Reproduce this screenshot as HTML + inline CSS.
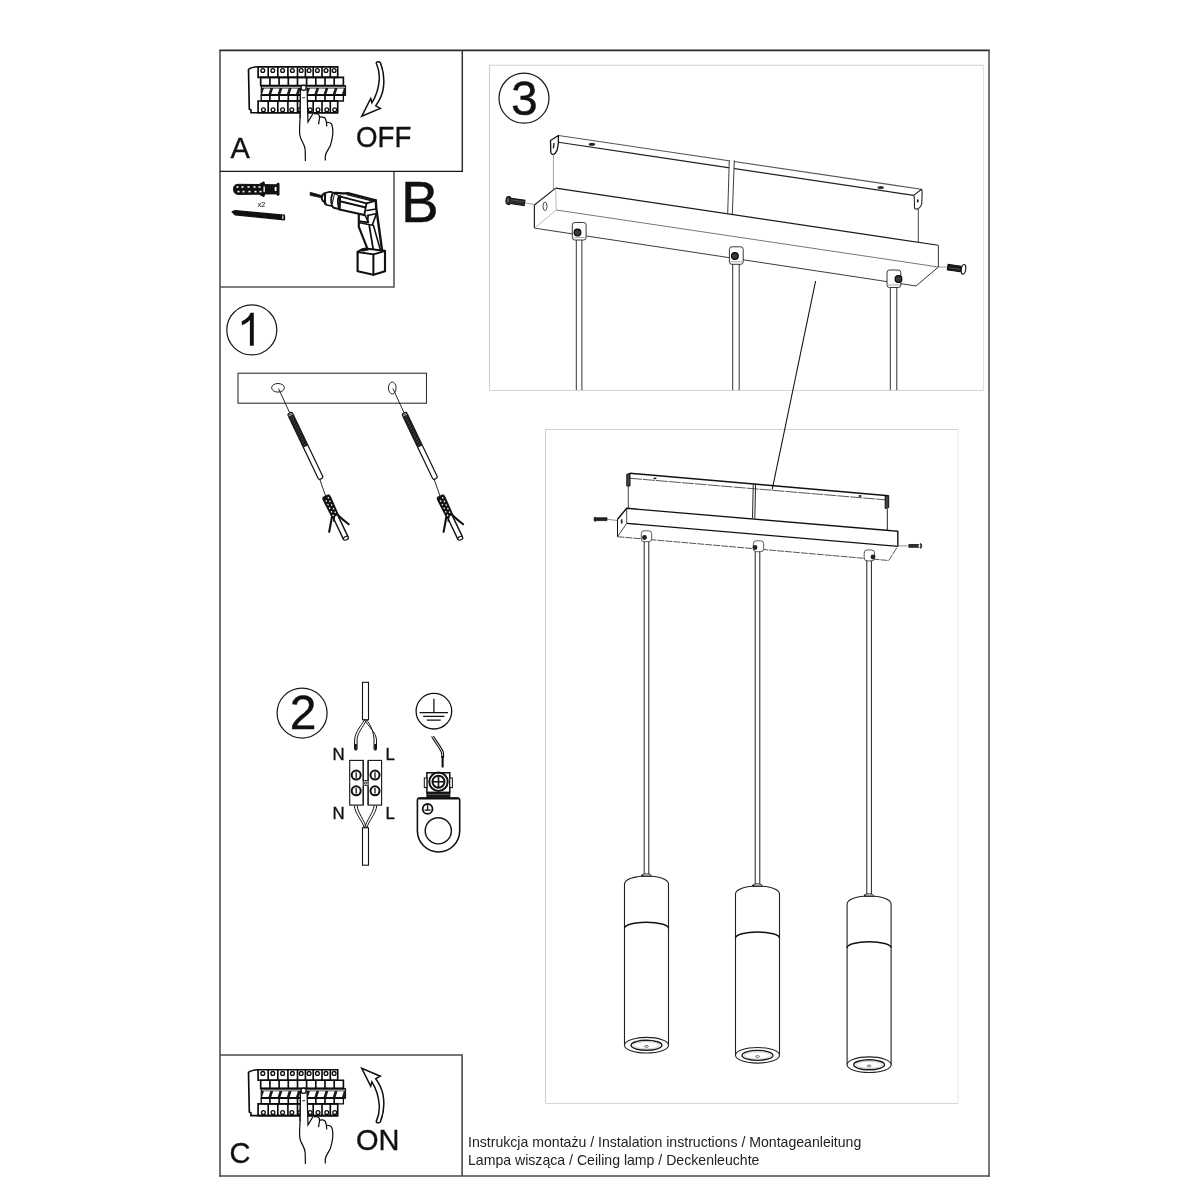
<!DOCTYPE html>
<html><head><meta charset="utf-8"><title>Instrukcja</title>
<style>html,body{margin:0;padding:0;background:#fff;width:1200px;height:1200px;overflow:hidden}svg{display:block;will-change:transform}</style>
</head><body>
<svg width="1200" height="1200" viewBox="0 0 1200 1200">
<path d="M219.2,50.4 H989.8" fill="none" stroke="#2a2a2a" stroke-width="1.6"/>
<path d="M989,50.4 V1176.8" fill="none" stroke="#555" stroke-width="1.6"/>
<path d="M989.8,1176 H219.2" fill="none" stroke="#4a4a4a" stroke-width="1.6"/>
<path d="M220,50.4 V1176.8" fill="none" stroke="#505050" stroke-width="1.6"/>
<path d="M394,171.4 V287 H220" fill="none" stroke="#555" stroke-width="1.6"/>
<path d="M462.3,50.4 V171.4" fill="none" stroke="#333" stroke-width="1.5"/>
<path d="M220,171.4 H463" fill="none" stroke="#1a1a1a" stroke-width="1.3"/>
<path d="M220,1055 H462.1 V1176" fill="none" stroke="#4a4a4a" stroke-width="1.6"/>
<path d="M489.5,390.5 V65.3 H983.5" fill="none" stroke="#cfcfcf" stroke-width="1.1"/>
<path d="M983.5,65.3 V390.5" fill="none" stroke="#e2e2e2" stroke-width="1.1"/>
<path d="M983.5,390.5 H489.5" fill="none" stroke="#d2d2d2" stroke-width="1.1"/>
<path d="M545.5,1103.5 V429.5 H958.1" fill="none" stroke="#d2d2d2" stroke-width="1.1"/>
<path d="M958.1,429.5 V1103.5" fill="none" stroke="#e8e8e8" stroke-width="1.1"/>
<path d="M958.1,1103.5 H545.5" fill="none" stroke="#d8d8d8" stroke-width="1.1"/>
<text x="230.5" y="158.3" font-family="Liberation Sans, sans-serif" font-size="29" fill="#111" stroke="#111" stroke-width="0.35">A</text>
<text x="356" y="146.7" font-family="Liberation Sans, sans-serif" font-size="29" fill="#111" stroke="#111" stroke-width="0.35" transform="translate(357,0) scale(0.954,1) translate(-357,0)">OFF</text>
<text x="401" y="221.9" font-family="Liberation Sans, sans-serif" font-size="56.5" fill="#111" stroke="#111" stroke-width="0.5">B</text>
<text x="229.5" y="1163.3" font-family="Liberation Sans, sans-serif" font-size="29" fill="#111" stroke="#111" stroke-width="0.35">C</text>
<text x="356" y="1150.3" font-family="Liberation Sans, sans-serif" font-size="29" fill="#111" stroke="#111" stroke-width="0.35">ON</text>
<text x="468" y="1146.6" font-family="Liberation Sans, sans-serif" font-size="14.1" fill="#222">Instrukcja montażu / Instalation instructions / Montageanleitung</text>
<text x="468" y="1165.2" font-family="Liberation Sans, sans-serif" font-size="14.1" fill="#222">Lampa wisząca / Ceiling lamp / Deckenleuchte</text>
<circle cx="251.8" cy="329.9" r="25" fill="none" stroke="#1a1a1a" stroke-width="1.25"/>
<circle cx="302.1" cy="713" r="25" fill="none" stroke="#1a1a1a" stroke-width="1.25"/>
<circle cx="524" cy="98.2" r="25" fill="none" stroke="#1a1a1a" stroke-width="1.25"/>
<path d="M249.9,345.8 L253.8,345.8 L253.8,312.8 L250.6,312.8 C249,316.5 246,319.6 241.8,321.3 L241.8,325.2 C245,324.2 248,322.3 249.9,320 Z" fill="#111"/>
<text x="303" y="728.7" text-anchor="middle" font-family="Liberation Sans, sans-serif" font-size="48" fill="#111" stroke="#111" stroke-width="0.4">2</text>
<text x="524.4" y="114.5" text-anchor="middle" font-family="Liberation Sans, sans-serif" font-size="48" fill="#111" stroke="#111" stroke-width="0.4">3</text>
<g transform="translate(0,0)" fill="none" stroke="#0a0a0a" stroke-width="1.65">
<path d="M258.1,66.8 C253,67 250,68 248.5,69.5 L249.3,109 L251,110 L251,112.7 L337.7,112.7"/>
<path d="M258.1,66.8 H337.7 V77.3 H258.1 Z"/>
<path d="M268.2,66.8 V77.3"/>
<path d="M277.8,66.8 V77.3"/>
<path d="M287.9,66.8 V77.3"/>
<path d="M297.5,66.8 V77.3"/>
<path d="M305.4,66.8 V77.3"/>
<path d="M313.2,66.8 V77.3"/>
<path d="M322.0,66.8 V77.3"/>
<path d="M330.3,66.8 V77.3"/>
<circle cx="262.8" cy="70.5" r="1.9" stroke-width="1.3"/>
<circle cx="272.8" cy="70.5" r="1.9" stroke-width="1.3"/>
<circle cx="282.6" cy="70.5" r="1.9" stroke-width="1.3"/>
<circle cx="292.4" cy="70.5" r="1.9" stroke-width="1.3"/>
<circle cx="301.2" cy="70.5" r="1.9" stroke-width="1.3"/>
<circle cx="309.1" cy="70.5" r="1.9" stroke-width="1.3"/>
<circle cx="317.4" cy="70.5" r="1.9" stroke-width="1.3"/>
<circle cx="326.0" cy="70.5" r="1.9" stroke-width="1.3"/>
<circle cx="334.1" cy="70.5" r="1.9" stroke-width="1.3"/>
<circle cx="263.4" cy="109.7" r="1.9" stroke-width="1.3"/>
<circle cx="273.0" cy="109.7" r="1.9" stroke-width="1.3"/>
<circle cx="282.6" cy="109.7" r="1.9" stroke-width="1.3"/>
<circle cx="291.8" cy="109.7" r="1.9" stroke-width="1.3"/>
<circle cx="299.7" cy="109.7" r="1.9" stroke-width="1.3"/>
<circle cx="310.2" cy="109.7" r="1.9" stroke-width="1.3"/>
<circle cx="318.0" cy="109.7" r="1.9" stroke-width="1.3"/>
<circle cx="326.8" cy="109.7" r="1.9" stroke-width="1.3"/>
<circle cx="334.7" cy="109.7" r="1.9" stroke-width="1.3"/>
<path d="M260.7,77.3 H343.4 V85.5 H260.7 Z"/>
<path d="M269.9,77.3 V85.5"/>
<path d="M279.1,77.3 V85.5"/>
<path d="M288.3,77.3 V85.5"/>
<path d="M297.5,77.3 V85.5"/>
<path d="M306.6,77.3 V85.5"/>
<path d="M315.8,77.3 V85.5"/>
<path d="M325.0,77.3 V85.5"/>
<path d="M334.2,77.3 V85.5"/>
<path d="M261.2,85.5 H345.6 V95.5 H261.2 Z" fill="#1a1a1a" stroke-width="1.0"/>
<path d="M262,87.3 H345" stroke="#fff" stroke-width="0.8"/>
<path d="M262.10,94.1 L263.90,88.4 L270.29,88.4 L268.49,94.1 Z" fill="#fff" stroke="none"/>
<path d="M271.29,94.1 L273.09,88.4 L279.48,88.4 L277.68,94.1 Z" fill="#fff" stroke="none"/>
<path d="M280.48,94.1 L282.28,88.4 L288.67,88.4 L286.87,94.1 Z" fill="#fff" stroke="none"/>
<path d="M289.67,94.1 L291.47,88.4 L297.86,88.4 L296.06,94.1 Z" fill="#fff" stroke="none"/>
<path d="M298.86,94.1 L300.66,88.4 L307.04,88.4 L305.24,94.1 Z" fill="#fff" stroke="none"/>
<path d="M308.04,94.1 L309.84,88.4 L316.23,88.4 L314.43,94.1 Z" fill="#fff" stroke="none"/>
<path d="M317.23,94.1 L319.03,88.4 L325.42,88.4 L323.62,94.1 Z" fill="#fff" stroke="none"/>
<path d="M326.42,94.1 L328.22,88.4 L334.61,88.4 L332.81,94.1 Z" fill="#fff" stroke="none"/>
<path d="M335.61,94.1 L337.41,88.4 L343.80,88.4 L342.00,94.1 Z" fill="#fff" stroke="none"/>
<path d="M261.2,95.2 H343.4 V101 H261.2 Z" stroke-width="1.3"/>
<path d="M269.9,95.2 V101"/>
<path d="M279.1,95.2 V101"/>
<path d="M288.3,95.2 V101"/>
<path d="M297.5,95.2 V101"/>
<path d="M306.6,95.2 V101"/>
<path d="M315.8,95.2 V101"/>
<path d="M325.0,95.2 V101"/>
<path d="M334.2,95.2 V101"/>
<path d="M258.1,101 H337.7 V112.7 H258.1 Z"/>
<path d="M268.2,101 V112.7"/>
<path d="M277.8,101 V112.7"/>
<path d="M287.9,101 V112.7"/>
<path d="M297.5,101 V112.7"/>
<path d="M305.4,101 V112.7"/>
<path d="M313.2,101 V112.7"/>
<path d="M322.0,101 V112.7"/>
<path d="M330.3,101 V112.7"/>
<path d="M300.5,88 L300.1,117.5 C299.8,125 299,131 300,136 C301,141 305,144 305.2,150 L305.4,161" fill="none" stroke-width="1.2"/>
<path d="M300.6,88 L300.4,117 L307.8,121.8 L307,88 Z" fill="#fff" stroke="none"/>
<path d="M300.5,88 L300.1,118 M307,88 L308,122 L312.9,113.8" stroke-width="1.2"/>
<circle cx="303.6" cy="87.8" r="2.6" fill="#fff" stroke-width="1.2"/>
<path d="M302,98 L305,97.5" stroke-width="0.8"/>
<path d="M314,114 C316,113.5 318.5,114 319.3,115.5 C320,118 319,121 318.5,124.3" stroke-width="1.2"/>
<path d="M319.3,117.5 C321,116.5 324.5,117 325.3,118.5 C326.3,120.5 326.6,123 326.8,126.5" stroke-width="1.2"/>
<path d="M326.6,122.5 C328.5,122 331.3,123 332,125 C333.5,130 333,137 330.5,145.3 C329,149 325.8,152 325.3,156 L325.3,160.6" stroke-width="1.2"/>
</g>
<g transform="translate(0,1002.9)" fill="none" stroke="#0a0a0a" stroke-width="1.65">
<path d="M258.1,66.8 C253,67 250,68 248.5,69.5 L249.3,109 L251,110 L251,112.7 L337.7,112.7"/>
<path d="M258.1,66.8 H337.7 V77.3 H258.1 Z"/>
<path d="M268.2,66.8 V77.3"/>
<path d="M277.8,66.8 V77.3"/>
<path d="M287.9,66.8 V77.3"/>
<path d="M297.5,66.8 V77.3"/>
<path d="M305.4,66.8 V77.3"/>
<path d="M313.2,66.8 V77.3"/>
<path d="M322.0,66.8 V77.3"/>
<path d="M330.3,66.8 V77.3"/>
<circle cx="262.8" cy="70.5" r="1.9" stroke-width="1.3"/>
<circle cx="272.8" cy="70.5" r="1.9" stroke-width="1.3"/>
<circle cx="282.6" cy="70.5" r="1.9" stroke-width="1.3"/>
<circle cx="292.4" cy="70.5" r="1.9" stroke-width="1.3"/>
<circle cx="301.2" cy="70.5" r="1.9" stroke-width="1.3"/>
<circle cx="309.1" cy="70.5" r="1.9" stroke-width="1.3"/>
<circle cx="317.4" cy="70.5" r="1.9" stroke-width="1.3"/>
<circle cx="326.0" cy="70.5" r="1.9" stroke-width="1.3"/>
<circle cx="334.1" cy="70.5" r="1.9" stroke-width="1.3"/>
<circle cx="263.4" cy="109.7" r="1.9" stroke-width="1.3"/>
<circle cx="273.0" cy="109.7" r="1.9" stroke-width="1.3"/>
<circle cx="282.6" cy="109.7" r="1.9" stroke-width="1.3"/>
<circle cx="291.8" cy="109.7" r="1.9" stroke-width="1.3"/>
<circle cx="299.7" cy="109.7" r="1.9" stroke-width="1.3"/>
<circle cx="310.2" cy="109.7" r="1.9" stroke-width="1.3"/>
<circle cx="318.0" cy="109.7" r="1.9" stroke-width="1.3"/>
<circle cx="326.8" cy="109.7" r="1.9" stroke-width="1.3"/>
<circle cx="334.7" cy="109.7" r="1.9" stroke-width="1.3"/>
<path d="M260.7,77.3 H343.4 V85.5 H260.7 Z"/>
<path d="M269.9,77.3 V85.5"/>
<path d="M279.1,77.3 V85.5"/>
<path d="M288.3,77.3 V85.5"/>
<path d="M297.5,77.3 V85.5"/>
<path d="M306.6,77.3 V85.5"/>
<path d="M315.8,77.3 V85.5"/>
<path d="M325.0,77.3 V85.5"/>
<path d="M334.2,77.3 V85.5"/>
<path d="M261.2,85.5 H345.6 V95.5 H261.2 Z" fill="#1a1a1a" stroke-width="1.0"/>
<path d="M262,87.3 H345" stroke="#fff" stroke-width="0.8"/>
<path d="M262.10,94.1 L263.90,88.4 L270.29,88.4 L268.49,94.1 Z" fill="#fff" stroke="none"/>
<path d="M271.29,94.1 L273.09,88.4 L279.48,88.4 L277.68,94.1 Z" fill="#fff" stroke="none"/>
<path d="M280.48,94.1 L282.28,88.4 L288.67,88.4 L286.87,94.1 Z" fill="#fff" stroke="none"/>
<path d="M289.67,94.1 L291.47,88.4 L297.86,88.4 L296.06,94.1 Z" fill="#fff" stroke="none"/>
<path d="M298.86,94.1 L300.66,88.4 L307.04,88.4 L305.24,94.1 Z" fill="#fff" stroke="none"/>
<path d="M308.04,94.1 L309.84,88.4 L316.23,88.4 L314.43,94.1 Z" fill="#fff" stroke="none"/>
<path d="M317.23,94.1 L319.03,88.4 L325.42,88.4 L323.62,94.1 Z" fill="#fff" stroke="none"/>
<path d="M326.42,94.1 L328.22,88.4 L334.61,88.4 L332.81,94.1 Z" fill="#fff" stroke="none"/>
<path d="M335.61,94.1 L337.41,88.4 L343.80,88.4 L342.00,94.1 Z" fill="#fff" stroke="none"/>
<path d="M261.2,95.2 H343.4 V101 H261.2 Z" stroke-width="1.3"/>
<path d="M269.9,95.2 V101"/>
<path d="M279.1,95.2 V101"/>
<path d="M288.3,95.2 V101"/>
<path d="M297.5,95.2 V101"/>
<path d="M306.6,95.2 V101"/>
<path d="M315.8,95.2 V101"/>
<path d="M325.0,95.2 V101"/>
<path d="M334.2,95.2 V101"/>
<path d="M258.1,101 H337.7 V112.7 H258.1 Z"/>
<path d="M268.2,101 V112.7"/>
<path d="M277.8,101 V112.7"/>
<path d="M287.9,101 V112.7"/>
<path d="M297.5,101 V112.7"/>
<path d="M305.4,101 V112.7"/>
<path d="M313.2,101 V112.7"/>
<path d="M322.0,101 V112.7"/>
<path d="M330.3,101 V112.7"/>
<path d="M300.5,88 L300.1,117.5 C299.8,125 299,131 300,136 C301,141 305,144 305.2,150 L305.4,161" fill="none" stroke-width="1.2"/>
<path d="M300.6,88 L300.4,117 L307.8,121.8 L307,88 Z" fill="#fff" stroke="none"/>
<path d="M300.5,88 L300.1,118 M307,88 L308,122 L312.9,113.8" stroke-width="1.2"/>
<circle cx="303.6" cy="87.8" r="2.6" fill="#fff" stroke-width="1.2"/>
<path d="M302,98 L305,97.5" stroke-width="0.8"/>
<path d="M314,114 C316,113.5 318.5,114 319.3,115.5 C320,118 319,121 318.5,124.3" stroke-width="1.2"/>
<path d="M319.3,117.5 C321,116.5 324.5,117 325.3,118.5 C326.3,120.5 326.6,123 326.8,126.5" stroke-width="1.2"/>
<path d="M326.6,122.5 C328.5,122 331.3,123 332,125 C333.5,130 333,137 330.5,145.3 C329,149 325.8,152 325.3,156 L325.3,160.6" stroke-width="1.2"/>
</g>
<path d="M376.3,63.2 C376,61.5 379,61.5 380.3,62.6 C384,72 384.5,82 383,90 C381.5,97 378.5,102 375.7,105.8 L380.3,108.4 L361.7,116.3 L370.7,98.5 L371.9,102.8 C375.5,97 378.5,90 379.2,80.1 C379.8,73 378,67 376.3,63.2 Z" fill="#fff" stroke="#111" stroke-width="1.5" stroke-linejoin="miter"/>
<g transform="translate(0,1184.6) scale(1,-1)"><path d="M376.3,63.2 C376,61.5 379,61.5 380.3,62.6 C384,72 384.5,82 383,90 C381.5,97 378.5,102 375.7,105.8 L380.3,108.4 L361.7,116.3 L370.7,98.5 L371.9,102.8 C375.5,97 378.5,90 379.2,80.1 C379.8,73 378,67 376.3,63.2 Z" fill="#fff" stroke="#111" stroke-width="1.5"/></g>
<g fill="#111" stroke="#111" stroke-width="1">
<path d="M233.5,189 C233.5,186 235,184.5 238,184.3 L259,184.5 L264,181.8 L264.5,184.6 L276.5,184.8 L277.3,183.3 L279,183.3 L279,195.2 L277.3,195.2 L276.5,193.9 L264.5,194 L264,196.8 L259,194.2 L238,194.4 C235,194.2 233.5,192.5 233.5,189 Z"/>
</g>
<g fill="#fff" stroke="none">
<rect x="236.5" y="186.2" width="2" height="1.6"/><rect x="237.5" y="190.8" width="2" height="1.6"/>
<rect x="241.5" y="186.2" width="2" height="1.6"/><rect x="242.5" y="190.8" width="2" height="1.6"/>
<rect x="247.5" y="186.2" width="2" height="1.6"/><rect x="248.5" y="190.8" width="2" height="1.6"/>
<rect x="253.5" y="186.2" width="2" height="1.6"/><rect x="254.5" y="190.8" width="2" height="1.6"/>
<rect x="258.5" y="186.2" width="2" height="1.6"/><rect x="259.5" y="190.8" width="2" height="1.6"/>
<rect x="263.5" y="186.5" width="1.3" height="5.5"/><rect x="274.7" y="187" width="1.8" height="4"/>
</g>
<text x="257.8" y="206.5" font-family="Liberation Sans, sans-serif" font-size="7" fill="#333" stroke="#333" stroke-width="0.15">x2</text>
<path d="M232.1,211.8 L235,210.6 L284.5,215.2 L284.5,219.8 L235,214.8 Z" fill="#111" stroke="#111" stroke-width="1.2" stroke-linejoin="round"/>
<path d="M282.8,215.6 L282.8,219" stroke="#fff" stroke-width="1.1"/>
<path d="M310.2,192.3 L321.8,195.6 L321.6,197.8 L310.2,195.3 Z" fill="#111" stroke="#111" stroke-width="0.8" stroke-linejoin="round"/>
<path d="M324.6,193.4 C322.5,194 321.6,196 321.7,198 C321.9,200 322.8,201.6 325.2,202.5" fill="none" stroke="#111" stroke-width="1.92" stroke-linejoin="round" stroke-linecap="round"/>
<path d="M324.6,193.4 C326.5,192.6 328.5,191.8 330,191.9 C332,192 333.5,192.8 335,193.4 L332.3,205.9 C330,205.8 327.5,205.3 325.8,204.5 C324.8,204 324.8,203 325.2,202.5 Z" fill="#fff" stroke="#111" stroke-width="1.92" stroke-linejoin="round" stroke-linecap="round"/>
<path d="M325.5,195 C324.5,198 324.8,201.5 325.9,204.3" fill="none" stroke="#111" stroke-width="1.56" stroke-linejoin="round" stroke-linecap="round"/>
<path d="M332.3,194 C330.8,198 330.8,202 332.3,205.9" fill="none" stroke="#111" stroke-width="1.92" stroke-linejoin="round" stroke-linecap="round"/>
<path d="M335,193.4 L340.2,196 L339.8,209 L334.2,208 C333,207.3 332.5,206.7 332.3,205.9" fill="#fff" stroke="#111" stroke-width="1.92" stroke-linejoin="round" stroke-linecap="round"/>
<path d="M338.8,196 C337.5,199.5 337.5,204.5 339.6,208.8" fill="none" stroke="#111" stroke-width="1.8" stroke-linejoin="round" stroke-linecap="round"/>
<path d="M335,193 L347.8,193.2 L375.8,200.4 L376.2,207.7 L375.8,213.7 L364.3,215 L339.6,209.5 L340.2,196 Z" fill="#fff" stroke="#111" stroke-width="0.12" stroke-linejoin="round" stroke-linecap="round"/>
<path d="M335,193 C338,192.5 342,194 347.8,193.2 L375.8,200.4" fill="none" stroke="#111" stroke-width="2.4" stroke-linejoin="round" stroke-linecap="round"/>
<path d="M340.5,196.7 L366.5,203.4 L375.8,200.6" fill="none" stroke="#111" stroke-width="1.8" stroke-linejoin="round" stroke-linecap="round"/>
<path d="M347,194.6 L372,200.8" fill="none" stroke="#111" stroke-width="1.2" stroke-linejoin="round" stroke-linecap="round"/>
<path d="M340.2,196 L339.6,209.5" fill="none" stroke="#111" stroke-width="2.04" stroke-linejoin="round" stroke-linecap="round"/>
<path d="M340,201.3 L364.8,207.2" fill="none" stroke="#111" stroke-width="1.92" stroke-linejoin="round" stroke-linecap="round"/>
<path d="M339.6,209.5 L364.3,215" fill="none" stroke="#111" stroke-width="2.28" stroke-linejoin="round" stroke-linecap="round"/>
<path d="M366.5,203.4 L364.3,215" fill="none" stroke="#111" stroke-width="1.8" stroke-linejoin="round" stroke-linecap="round"/>
<path d="M367,210.5 L375.8,209" fill="none" stroke="#111" stroke-width="1.68" stroke-linejoin="round" stroke-linecap="round"/>
<path d="M367.5,215.5 L375.8,213.7" fill="none" stroke="#111" stroke-width="1.68" stroke-linejoin="round" stroke-linecap="round"/>
<path d="M375.8,200.4 L376.2,207.7 L382.1,250.3" fill="none" stroke="#111" stroke-width="2.4" stroke-linejoin="round" stroke-linecap="round"/>
<path d="M358.8,215 L358.8,226.9 L366.9,247.4" fill="none" stroke="#111" stroke-width="2.16" stroke-linejoin="round" stroke-linecap="round"/>
<path d="M358.8,221.1 L367.5,222.3 L368.1,215.8" fill="none" stroke="#111" stroke-width="1.68" stroke-linejoin="round" stroke-linecap="round"/>
<path d="M359.9,222.8 L372.2,225.2 L376.5,213.5" fill="none" stroke="#111" stroke-width="1.68" stroke-linejoin="round" stroke-linecap="round"/>
<path d="M365.2,215.6 L368.6,222.5" fill="none" stroke="#111" stroke-width="1.44" stroke-linejoin="round" stroke-linecap="round"/>
<path d="M369.3,225.8 L373.4,250.3" fill="none" stroke="#111" stroke-width="1.8" stroke-linejoin="round" stroke-linecap="round"/>
<path d="M373.4,225.2 L380.4,250.3" fill="none" stroke="#111" stroke-width="1.56" stroke-linejoin="round" stroke-linecap="round"/>
<path d="M357.6,252 L362,249.3 L366,248.5 L385,250.9 L385,271.3 L373.4,274.8 L357.6,271.3 Z" fill="#fff" stroke="#111" stroke-width="2.16" stroke-linejoin="round" stroke-linecap="round"/>
<path d="M357.6,252 L373.4,254.4 L385,250.9" fill="none" stroke="#111" stroke-width="1.92" stroke-linejoin="round" stroke-linecap="round"/>
<path d="M373.4,254.4 L373.4,274.8" fill="none" stroke="#111" stroke-width="2.04" stroke-linejoin="round" stroke-linecap="round"/>
<path d="M362.5,250.5 L368,249.6" fill="none" stroke="#111" stroke-width="1.92" stroke-linejoin="round" stroke-linecap="round"/>
<rect x="238" y="373.2" width="188.5" height="30" fill="none" stroke="#333" stroke-width="1.1"/>
<ellipse cx="278" cy="387.8" rx="6.4" ry="4.3" fill="#fff" stroke="#222" stroke-width="1"/>
<ellipse cx="392.3" cy="388" rx="3.8" ry="6" fill="#fff" stroke="#222" stroke-width="1"/>
<g transform="translate(0,0)" stroke="#111" fill="none">
<path d="M278.5,388.5 L290,413.5" stroke-width="0.9"/>
<g transform="translate(290.2,414) rotate(64.5)">
<rect x="-1.2" y="-2.5" width="73" height="5" rx="1.8" fill="#fff" stroke-width="1.2"/>
<rect x="0" y="-2.4" width="36" height="4.8" fill="#1a1a1a" stroke="none"/>
<path d="M3,-1.2 L4.6,1.2" stroke="#666" stroke-width="0.6"/>
<path d="M6,-1.2 L7.6,1.2" stroke="#666" stroke-width="0.6"/>
<path d="M9,-1.2 L10.6,1.2" stroke="#666" stroke-width="0.6"/>
<path d="M12,-1.2 L13.6,1.2" stroke="#666" stroke-width="0.6"/>
<path d="M15,-1.2 L16.6,1.2" stroke="#666" stroke-width="0.6"/>
<path d="M18,-1.2 L19.6,1.2" stroke="#666" stroke-width="0.6"/>
<path d="M21,-1.2 L22.6,1.2" stroke="#666" stroke-width="0.6"/>
<path d="M24,-1.2 L25.6,1.2" stroke="#666" stroke-width="0.6"/>
<path d="M27,-1.2 L28.6,1.2" stroke="#666" stroke-width="0.6"/>
<path d="M30,-1.2 L31.6,1.2" stroke="#666" stroke-width="0.6"/>
<path d="M33,-1.2 L34.6,1.2" stroke="#666" stroke-width="0.6"/>
<path d="M1.2,-2.4 V2.4" stroke="#fff" stroke-width="0.6"/>
</g>
<path d="M319.8,479.5 L325.8,496.5" stroke-width="0.9"/>
<g transform="translate(325.8,496.2) rotate(64.5)">
<rect x="19" y="-2.6" width="28" height="5.2" rx="1.5" fill="#fff" stroke-width="1.4"/>
<ellipse cx="46.6" cy="0" rx="1.7" ry="2.6" fill="#fff" stroke-width="1.2"/>
<path d="M0,-2.6 C0,-3.6 1.5,-3.9 3,-3.9 L21,-3.3 L22.5,3.3 L3,3.9 C1.5,3.9 0,3.6 0,2.6 Z" fill="#111" stroke-width="1.2"/>
<ellipse cx="2.5" cy="-1.6" rx="0.9" ry="0.7" fill="#fff" stroke="none"/>
<ellipse cx="4.5" cy="1.6" rx="0.9" ry="0.7" fill="#fff" stroke="none"/>
<ellipse cx="6.5" cy="-1.6" rx="0.9" ry="0.7" fill="#fff" stroke="none"/>
<ellipse cx="8.5" cy="1.6" rx="0.9" ry="0.7" fill="#fff" stroke="none"/>
<ellipse cx="10.5" cy="-1.6" rx="0.9" ry="0.7" fill="#fff" stroke="none"/>
<ellipse cx="12.5" cy="1.6" rx="0.9" ry="0.7" fill="#fff" stroke="none"/>
<ellipse cx="14.5" cy="-1.6" rx="0.9" ry="0.7" fill="#fff" stroke="none"/>
<ellipse cx="16.5" cy="1.6" rx="0.9" ry="0.7" fill="#fff" stroke="none"/>
<ellipse cx="18.5" cy="-1.6" rx="0.9" ry="0.7" fill="#fff" stroke="none"/>
<ellipse cx="20.5" cy="1.6" rx="0.9" ry="0.7" fill="#fff" stroke="none"/>
<path d="M21.6,3.6 C25,6 30,9.5 33.6,12.3" stroke-width="2.1" stroke-linecap="round"/>
<path d="M21.9,-2.8 C26,-4 31,-6.5 35.2,-8.6" stroke-width="2.0" stroke-linecap="round"/>
<path d="M22,1 L26,3.5" stroke-width="1.5" stroke-linecap="round"/>
</g>
</g>
<g transform="translate(114.4,0)" stroke="#111" fill="none">
<path d="M278.5,388.5 L290,413.5" stroke-width="0.9"/>
<g transform="translate(290.2,414) rotate(64.5)">
<rect x="-1.2" y="-2.5" width="73" height="5" rx="1.8" fill="#fff" stroke-width="1.2"/>
<rect x="0" y="-2.4" width="36" height="4.8" fill="#1a1a1a" stroke="none"/>
<path d="M3,-1.2 L4.6,1.2" stroke="#666" stroke-width="0.6"/>
<path d="M6,-1.2 L7.6,1.2" stroke="#666" stroke-width="0.6"/>
<path d="M9,-1.2 L10.6,1.2" stroke="#666" stroke-width="0.6"/>
<path d="M12,-1.2 L13.6,1.2" stroke="#666" stroke-width="0.6"/>
<path d="M15,-1.2 L16.6,1.2" stroke="#666" stroke-width="0.6"/>
<path d="M18,-1.2 L19.6,1.2" stroke="#666" stroke-width="0.6"/>
<path d="M21,-1.2 L22.6,1.2" stroke="#666" stroke-width="0.6"/>
<path d="M24,-1.2 L25.6,1.2" stroke="#666" stroke-width="0.6"/>
<path d="M27,-1.2 L28.6,1.2" stroke="#666" stroke-width="0.6"/>
<path d="M30,-1.2 L31.6,1.2" stroke="#666" stroke-width="0.6"/>
<path d="M33,-1.2 L34.6,1.2" stroke="#666" stroke-width="0.6"/>
<path d="M1.2,-2.4 V2.4" stroke="#fff" stroke-width="0.6"/>
</g>
<path d="M319.8,479.5 L325.8,496.5" stroke-width="0.9"/>
<g transform="translate(325.8,496.2) rotate(64.5)">
<rect x="19" y="-2.6" width="28" height="5.2" rx="1.5" fill="#fff" stroke-width="1.4"/>
<ellipse cx="46.6" cy="0" rx="1.7" ry="2.6" fill="#fff" stroke-width="1.2"/>
<path d="M0,-2.6 C0,-3.6 1.5,-3.9 3,-3.9 L21,-3.3 L22.5,3.3 L3,3.9 C1.5,3.9 0,3.6 0,2.6 Z" fill="#111" stroke-width="1.2"/>
<ellipse cx="2.5" cy="-1.6" rx="0.9" ry="0.7" fill="#fff" stroke="none"/>
<ellipse cx="4.5" cy="1.6" rx="0.9" ry="0.7" fill="#fff" stroke="none"/>
<ellipse cx="6.5" cy="-1.6" rx="0.9" ry="0.7" fill="#fff" stroke="none"/>
<ellipse cx="8.5" cy="1.6" rx="0.9" ry="0.7" fill="#fff" stroke="none"/>
<ellipse cx="10.5" cy="-1.6" rx="0.9" ry="0.7" fill="#fff" stroke="none"/>
<ellipse cx="12.5" cy="1.6" rx="0.9" ry="0.7" fill="#fff" stroke="none"/>
<ellipse cx="14.5" cy="-1.6" rx="0.9" ry="0.7" fill="#fff" stroke="none"/>
<ellipse cx="16.5" cy="1.6" rx="0.9" ry="0.7" fill="#fff" stroke="none"/>
<ellipse cx="18.5" cy="-1.6" rx="0.9" ry="0.7" fill="#fff" stroke="none"/>
<ellipse cx="20.5" cy="1.6" rx="0.9" ry="0.7" fill="#fff" stroke="none"/>
<path d="M21.6,3.6 C25,6 30,9.5 33.6,12.3" stroke-width="2.1" stroke-linecap="round"/>
<path d="M21.9,-2.8 C26,-4 31,-6.5 35.2,-8.6" stroke-width="2.0" stroke-linecap="round"/>
<path d="M22,1 L26,3.5" stroke-width="1.5" stroke-linecap="round"/>
</g>
</g>
<g stroke="#111" fill="none" stroke-width="1.1">
<rect x="362.5" y="682.3" width="6" height="37.4" fill="#fff"/>
<rect x="362.5" y="827.8" width="6" height="37.4" fill="#fff"/>
<path d="M364.3,720 C361,726 355,732 354.6,740 L354.6,749.5 M366.6,720 C363,727 357.2,733 357.1,740 L357.1,749.5" stroke-width="1"/>
<path d="M364.6,720 C368,726 376,732 376.5,740 L376.5,749.5 M366.8,720 C371,726 373.8,732 374,740 L374,749.5" stroke-width="1"/>
<path d="M355.8,744 V750.5 M375.3,744 V750.5" stroke-width="2.0"/>
<path d="M354.3,805.5 C355,814 362,820 364.3,828 M357,805.5 C358,813 364,820 366.6,828" stroke-width="1"/>
<path d="M376.8,805.5 C376,814 369,820 366.8,828 M374.2,805.5 C373,813 367,820 364.3,828" stroke-width="1"/>
<rect x="349.7" y="760.4" width="13.5" height="44.7" fill="#fff"/>
<rect x="368.1" y="760.4" width="13.5" height="44.7" fill="#fff"/>
<path d="M363.2,760.4 V780.7 H368.1 V760.4" stroke-width="1.0"/>
<path d="M363.2,805.1 V786.8 C363.2,785.8 364,785.5 365.6,785.5 C367.2,785.5 368.1,785.8 368.1,786.8 V805.1" stroke-width="1.0"/>
<circle cx="365.6" cy="783.2" r="1.1" stroke-width="0.9"/>
<circle cx="356.2" cy="775.1" r="4.5" fill="#fff" stroke-width="2.0"/>
<path d="M356.2,772.3000000000001 V777.9" stroke-width="1.3"/>
<circle cx="356.2" cy="790.8" r="4.5" fill="#fff" stroke-width="2.0"/>
<path d="M356.2,788.0 V793.5999999999999" stroke-width="1.3"/>
<circle cx="375" cy="775.1" r="4.5" fill="#fff" stroke-width="2.0"/>
<path d="M375,772.3000000000001 V777.9" stroke-width="1.3"/>
<circle cx="375" cy="790.8" r="4.5" fill="#fff" stroke-width="2.0"/>
<path d="M375,788.0 V793.5999999999999" stroke-width="1.3"/>
</g>
<text x="332.5" y="759.6" font-family="Liberation Sans, sans-serif" font-size="16.8" fill="#111" stroke="#111" stroke-width="0.35">N</text>
<text x="385.5" y="759.6" font-family="Liberation Sans, sans-serif" font-size="16.8" fill="#111" stroke="#111" stroke-width="0.35">L</text>
<text x="332.5" y="818.9" font-family="Liberation Sans, sans-serif" font-size="16.8" fill="#111" stroke="#111" stroke-width="0.35">N</text>
<text x="385.5" y="818.9" font-family="Liberation Sans, sans-serif" font-size="16.8" fill="#111" stroke="#111" stroke-width="0.35">L</text>
<g stroke="#111" fill="none">
<circle cx="433.9" cy="711.2" r="17.8" stroke-width="1.3"/>
<path d="M433.9,698.8 V712.7 M419.6,712.7 H448 M423.2,716.3 H444.4 M426.9,720 H440.7" stroke-width="1.25"/>
<path d="M431.6,736.5 C434,741 439.5,748 441.3,752 C442,754 441.8,756 441.8,758 M433.4,736 C436,740.5 441.3,747 443.1,751.5 C443.9,753.5 443.6,756 443.6,758" stroke-width="1.1"/>
<path d="M442.6,756 V767.5" stroke-width="2.1"/>
<path d="M419.6,798 H457.5 Q459.7,798 459.7,800.2 V830.8 A21.15,21.15 0 0 1 417.4,830.8 V800.2 Q417.4,798 419.6,798 Z" fill="#fff" stroke-width="1.6"/>
<path d="M418.5,798.6 H458.6" stroke-width="2.0"/>
<circle cx="438.3" cy="830.8" r="13.1" stroke-width="1.4"/>
<circle cx="427.6" cy="808.9" r="4.9" stroke-width="1.8"/>
<path d="M427.6,805.3 V810.2 M424.6,810.2 H430.6" stroke-width="1.3"/>
<rect x="426.9" y="772.8" width="22.9" height="19.7" fill="#fff" stroke-width="1.5"/>
<rect x="426.9" y="792.3" width="22.9" height="6" fill="#1a1a1a" stroke-width="1"/>
<path d="M427.5,794.5 H449" stroke="#777" stroke-width="0.6"/>
<rect x="424.3" y="778" width="2.6" height="9.6" fill="#fff" stroke-width="1.0"/>
<rect x="449.8" y="778" width="2.6" height="9.6" fill="#fff" stroke-width="1.0"/>
<circle cx="438.5" cy="781.8" r="9.2" stroke-width="2.0"/>
<circle cx="438.5" cy="781.8" r="6.0" stroke-width="2.0"/>
<path d="M438.5,776 V787.6 M432.7,781.8 H444.3" stroke-width="1.6"/>
</g>
<path d="M558.4,135.5 L921.5,189.3" fill="none" stroke="#555" stroke-width="1.1" stroke-linejoin="round" />
<path d="M558.4,142.2 L913.7,195.4" fill="none" stroke="#222" stroke-width="1.1" stroke-linejoin="round" />
<path d="M558.4,135.5 L550.5,140.5 L550.8,152.5 C551,154.5 553.5,155 555,153.5 C556.5,152 557.6,150 557.8,147 L558.4,142.2 Z" fill="#fff" stroke="#111" stroke-width="1.3" stroke-linejoin="round" />
<path d="M554,143 L553.4,148.3" fill="none" stroke="#111" stroke-width="1.3" stroke-linejoin="round" />
<path d="M913.7,195.4 L921.5,189.3 C922.3,190.5 922.1,192 922.1,194 L921.8,203 C921.5,205.5 919.5,208 917.8,208.6 C916.5,209.6 914.6,209 914.5,207.7 L914.3,197.2 Z" fill="#fff" stroke="#222" stroke-width="1.1" stroke-linejoin="round" />
<path d="M918,199.5 L917.5,202.4" fill="none" stroke="#111" stroke-width="1.6" stroke-linejoin="round" />
<path d="M553.4,154.5 L553.4,189" fill="none" stroke="#888" stroke-width="0.8" stroke-linejoin="round" />
<path d="M918.3,208.6 L918.3,242" fill="none" stroke="#444" stroke-width="1.0" stroke-linejoin="round" />
<ellipse cx="591.9" cy="144.3" rx="3.2" ry="1.5" fill="#222"/>
<ellipse cx="880.7" cy="187.6" rx="3.2" ry="1.5" fill="#333"/>
<path d="M729.3,160.3 L734.3,160.3 L732.3,214.3 L727.7,213.7 Z" fill="#fff"/>
<path d="M729.3,160.3 L727.7,213.7 M734.3,160.3 L732.3,214.3" fill="none" stroke="#333" stroke-width="0.95" stroke-linejoin="round" />
<path d="M555.6,188.1 L938.4,245.3 L938.4,267 L916,286 L534.4,228.1 L534.4,205 Z" fill="#fff" stroke="#fff" stroke-width="0.1" stroke-linejoin="round" />
<path d="M534.4,205 L555.6,188.1" fill="none" stroke="#222" stroke-width="1.2" stroke-linejoin="round" />
<path d="M555.6,188.1 L938.4,245.3" fill="none" stroke="#1a1a1a" stroke-width="1.15" stroke-linejoin="round" />
<path d="M938.4,245.3 L938.4,267 L916,286" fill="none" stroke="#333" stroke-width="1.0" stroke-linejoin="round" />
<path d="M916,286 L534.4,228.1" fill="none" stroke="#333" stroke-width="0.95" stroke-linejoin="round" />
<path d="M534.4,228.1 L534.4,205" fill="none" stroke="#222" stroke-width="1.2" stroke-linejoin="round" />
<path d="M556.3,210 L938.4,267" fill="none" stroke="#555" stroke-width="0.8" stroke-linejoin="round" />
<path d="M555.6,188.5 L556.3,210 L534.4,228.1" fill="none" stroke="#aaa" stroke-width="0.8" stroke-linejoin="round" />
<ellipse cx="545" cy="206.3" rx="2" ry="4.3" fill="none" stroke="#333" stroke-width="0.9"/>
<path d="M524.5,202.8 L534.3,204.5" fill="none" stroke="#555" stroke-width="0.6" stroke-linejoin="round" />
<g transform="translate(508.3,200.5) rotate(8)"><path d="M-2.3,-1 C-2.3,-4.5 2,-4.8 2.3,-2.6 L16.5,-2.6 L16.5,2.8 L2.3,2.8 C2,4.8 -2.3,4.5 -2.3,1 Z" fill="#2a2a2a" stroke="#111" stroke-width="1"/><path d="M-0.8,-2 C0,-1 0,1 -0.8,2" stroke="#ccc" stroke-width="0.7" fill="none"/><path d="M3,-1 H15" stroke="#666" stroke-width="0.6"/></g>
<path d="M938.6,267 L946.7,267.2" fill="none" stroke="#555" stroke-width="0.6" stroke-linejoin="round" />
<g transform="translate(964,269.4) rotate(188)"><path d="M2.3,-2.8 L16.5,-2.8 L16.5,2.8 L2.3,2.8 Z" fill="#1a1a1a" stroke="#111" stroke-width="1"/><path d="M4,-0.5 H15" stroke="#777" stroke-width="0.6"/><ellipse cx="0.5" cy="0" rx="2.2" ry="4.8" fill="#fff" stroke="#111" stroke-width="1.1"/></g>
<path d="M576.3,238.5 V390 M581.9,238.5 V390" fill="none" stroke="#333" stroke-width="1.0" stroke-linejoin="round" />
<rect x="572.3" y="222.5" width="13.8" height="17.5" rx="2.5" fill="#fff" stroke="#222" stroke-width="0.9"/>
<path d="M573.3,237.5 H585.0999999999999" stroke="#888" stroke-width="0.7"/>
<circle cx="577.5" cy="232.5" r="3.4" fill="#3a3a3a" stroke="#000" stroke-width="1.1"/>
<path d="M732.7,262.8 V390 M739.2,262.8 V390" fill="none" stroke="#333" stroke-width="1.0" stroke-linejoin="round" />
<rect x="729.4" y="246.8" width="13.8" height="17.5" rx="2.5" fill="#fff" stroke="#222" stroke-width="0.9"/>
<path d="M730.4,261.8 H742.1999999999999" stroke="#888" stroke-width="0.7"/>
<circle cx="734.9" cy="256" r="3.4" fill="#3a3a3a" stroke="#000" stroke-width="1.1"/>
<path d="M890.3,286 V390 M896.8,286 V390" fill="none" stroke="#333" stroke-width="1.0" stroke-linejoin="round" />
<rect x="887" y="270" width="13.8" height="17.5" rx="2.5" fill="#fff" stroke="#222" stroke-width="0.9"/>
<path d="M888,285 H899.8" stroke="#888" stroke-width="0.7"/>
<circle cx="898.5" cy="279" r="3.4" fill="#3a3a3a" stroke="#000" stroke-width="1.1"/>
<path d="M815.6,281 L772.2,489.5" fill="none" stroke="#111" stroke-width="1.1" stroke-linejoin="round" />
<path d="M630,473.3 L888.7,495.8" fill="none" stroke="#111" stroke-width="1.4" stroke-linejoin="round" />
<path d="M630,478.3 L885.2,499.8" fill="none" stroke="#444" stroke-width="0.9" stroke-linejoin="round" stroke-dasharray="12,1"/>
<path d="M626.8,474.3 L630,473.3 L630,486 L626.8,486 Z" fill="#444" stroke="#111" stroke-width="1.0" stroke-linejoin="round" />
<path d="M885.2,496.1 L888.7,495.8 L888.7,507.5 L885.2,508.6 Z" fill="#444" stroke="#111" stroke-width="1.0" stroke-linejoin="round" />
<path d="M628.3,486 L628.3,508.3" fill="none" stroke="#333" stroke-width="0.9" stroke-linejoin="round" />
<path d="M887.3,508.6 L887.3,530.8" fill="none" stroke="#222" stroke-width="1.0" stroke-linejoin="round" />
<ellipse cx="655" cy="478.3" rx="1.6" ry="0.9" fill="#222"/>
<ellipse cx="860" cy="496" rx="1.6" ry="0.9" fill="#222"/>
<path d="M753.3,483.2 L752.5,518 M755.6,483.4 L754.8,518.5" fill="none" stroke="#222" stroke-width="1.0" stroke-linejoin="round" />
<path d="M626.7,508.3 L897.8,531.3 L897.8,546.3 L888.7,560.5 L617.5,536.7 L617.5,519.2 Z" fill="#fff" stroke="#fff" stroke-width="0.1" stroke-linejoin="round" />
<path d="M617.5,519.2 L626.7,508.3 L897.8,531.3 L897.8,546.3" fill="none" stroke="#111" stroke-width="1.4" stroke-linejoin="round" />
<path d="M617.5,519.2 L617.5,536.7" fill="none" stroke="#111" stroke-width="1.0" stroke-linejoin="round" />
<path d="M626.7,523.3 L897.8,546.3" fill="none" stroke="#111" stroke-width="1.3" stroke-linejoin="round" />
<path d="M626.7,509 L626.7,523.3 L617.5,536.7" fill="none" stroke="#333" stroke-width="0.9" stroke-linejoin="round" />
<path d="M617.5,536.7 L888.7,560.5 L897.8,546.3" fill="none" stroke="#444" stroke-width="0.9" stroke-linejoin="round" stroke-dasharray="7,1"/>
<ellipse cx="621.7" cy="521.5" rx="1" ry="2.4" fill="#333"/>
<g transform="translate(595,519.2)"><path d="M0,-2.2 C-1.2,-2 -1.2,2 0,2.2 L1.3,1.4 L12,1.4 L12,-1.4 L1.3,-1.4 Z" fill="#222" stroke="#111" stroke-width="0.8"/></g>
<path d="M607.3,519.3 L617.4,520.5" fill="none" stroke="#444" stroke-width="0.6" stroke-linejoin="round" />
<g transform="translate(920.8,545.9) rotate(180)"><path d="M0,-2.4 C-1.2,-2 -1.2,2 0,2.4 L1.3,1.4 L12,1.4 L12,-1.4 L1.3,-1.4 Z" fill="#333" stroke="#111" stroke-width="0.8"/><rect x="0.6" y="-1.6" width="1.5" height="3.2" fill="#fff"/></g>
<path d="M897.9,545.8 L907.5,545.9" fill="none" stroke="#444" stroke-width="0.6" stroke-linejoin="round" />
<rect x="641.3" y="530.8" width="10.4" height="10.9" rx="3" fill="#fff" stroke="#333" stroke-width="0.8"/>
<circle cx="644.5" cy="537.5" r="2.4" fill="#222"/>
<rect x="753.3" y="540.8" width="10.4" height="10.9" rx="3" fill="#fff" stroke="#333" stroke-width="0.8"/>
<circle cx="755" cy="547.5" r="2.4" fill="#222"/>
<rect x="864.2" y="550" width="10.4" height="10.9" rx="3" fill="#fff" stroke="#333" stroke-width="0.8"/>
<circle cx="873" cy="557" r="2.4" fill="#222"/>
<path d="M644.2,541.7 V875 M648.8,541.7 V875" stroke="#222" stroke-width="1"/>
<path d="M641.5,876.3 C642.0,873 651.0,873 651.5,876.3 Z" fill="#fff" stroke="#111" stroke-width="0.9"/>
<circle cx="642.2" cy="875.4" r="1" fill="#111"/>
<path d="M624.5,1045.2 V884 A22,8 0 0 1 668.5,884 V1045.2" fill="none" stroke="#222" stroke-width="1.1"/>
<path d="M624.5,928.3 A22,6 0 0 1 668.5,928.3" fill="none" stroke="#111" stroke-width="1.5"/>
<ellipse cx="646.5" cy="1045.2" rx="22" ry="7.8" fill="#fff" stroke="#222" stroke-width="1.1"/>
<ellipse cx="646.5" cy="1045.3" rx="15.4" ry="5" fill="none" stroke="#1a1a1a" stroke-width="1.4"/>
<ellipse cx="646.5" cy="1045.3" rx="13" ry="3.6" fill="none" stroke="#aaa" stroke-width="0.6"/>
<ellipse cx="646.5" cy="1046.4" rx="2" ry="0.9" fill="none" stroke="#555" stroke-width="0.8"/>
<path d="M755.2,551.7 V885 M759.8,551.7 V885" stroke="#222" stroke-width="1"/>
<path d="M752.5,886.3 C753.0,883 762.0,883 762.5,886.3 Z" fill="#fff" stroke="#111" stroke-width="0.9"/>
<circle cx="753.2" cy="885.4" r="1" fill="#111"/>
<path d="M735.5,1055.3 V894 A22,8 0 0 1 779.5,894 V1055.3" fill="none" stroke="#222" stroke-width="1.1"/>
<path d="M735.5,938 A22,6 0 0 1 779.5,938" fill="none" stroke="#111" stroke-width="1.5"/>
<ellipse cx="757.5" cy="1055.3" rx="22" ry="7.8" fill="#fff" stroke="#222" stroke-width="1.1"/>
<ellipse cx="757.5" cy="1055.3999999999999" rx="15.4" ry="5" fill="none" stroke="#1a1a1a" stroke-width="1.4"/>
<ellipse cx="757.5" cy="1055.3999999999999" rx="13" ry="3.6" fill="none" stroke="#aaa" stroke-width="0.6"/>
<ellipse cx="757.5" cy="1056.5" rx="2" ry="0.9" fill="none" stroke="#555" stroke-width="0.8"/>
<path d="M866.8000000000001,560.5 V895 M871.4,560.5 V895" stroke="#222" stroke-width="1"/>
<path d="M864.1,896.3 C864.6,893 873.6,893 874.1,896.3 Z" fill="#fff" stroke="#111" stroke-width="0.9"/>
<circle cx="864.8000000000001" cy="895.4" r="1" fill="#111"/>
<path d="M847.1,1064.7 V904 A22,8 0 0 1 891.1,904 V1064.7" fill="none" stroke="#222" stroke-width="1.1"/>
<path d="M847.1,947.8 A22,6 0 0 1 891.1,947.8" fill="none" stroke="#111" stroke-width="1.5"/>
<ellipse cx="869.1" cy="1064.7" rx="22" ry="7.8" fill="#fff" stroke="#222" stroke-width="1.1"/>
<ellipse cx="869.1" cy="1064.8" rx="15.4" ry="5" fill="none" stroke="#1a1a1a" stroke-width="1.4"/>
<ellipse cx="869.1" cy="1064.8" rx="13" ry="3.6" fill="none" stroke="#aaa" stroke-width="0.6"/>
<ellipse cx="869.1" cy="1065.9" rx="2" ry="0.9" fill="none" stroke="#555" stroke-width="0.8"/>
</svg>
</body></html>
